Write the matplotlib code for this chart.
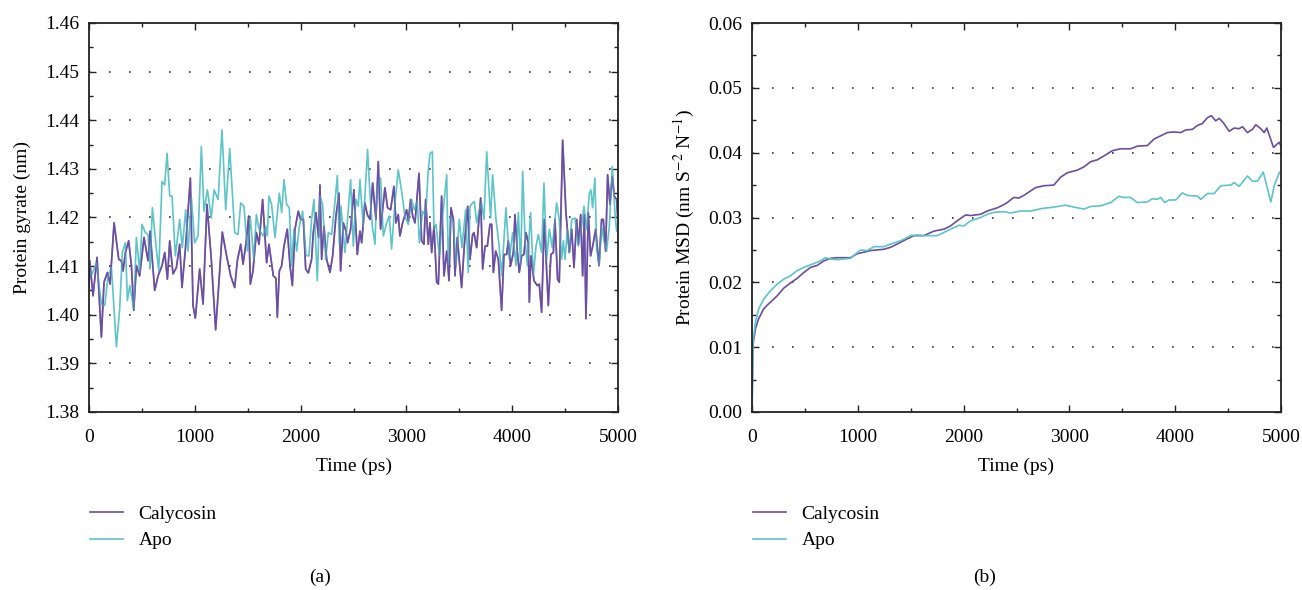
import numpy as np
import matplotlib
matplotlib.use("Agg")
import matplotlib.pyplot as plt
from matplotlib.ticker import MultipleLocator

plt.rcParams['font.family'] = ['Liberation Serif', 'DejaVu Serif']
plt.rcParams['mathtext.fontset'] = 'stix'

PURPLE = "#6a4ea2"
TEAL = "#5dc4c7"
FS = 14

# ---- (a) radius of gyration ----
gyr_cal_t = [0, 7, 38, 76, 117, 142, 174, 199, 237, 281, 306, 322, 344, 375, 401, 423, 448, 479,
             520, 558, 577, 621, 653, 690, 716, 741, 763, 794, 826, 857, 879, 911, 958, 983, 1005,
             1046, 1078, 1115, 1156, 1197, 1226, 1260, 1298, 1339, 1377, 1402, 1434, 1456, 1487,
             1509, 1525, 1550, 1582, 1607,
             1616, 1641, 1679, 1701, 1742, 1767, 1780, 1799, 1821, 1843, 1874, 1900, 1922, 1947,
             1978, 2000, 2026, 2048, 2073, 2104, 2120, 2145, 2170, 2183, 2199, 2221, 2246, 2278,
             2303, 2334, 2363, 2378, 2404, 2429, 2444, 2473, 2504, 2536, 2561, 2577, 2608, 2630,
             2656, 2681, 2712, 2734, 2756, 2797, 2822, 2851, 2882, 2901, 2923, 2939, 2964, 3002,
             3018, 3040, 3059, 3081, 3097, 3119, 3144, 3166, 3182, 3207,
             3223, 3239, 3261, 3286, 3302, 3333, 3355, 3381, 3403, 3421, 3444, 3459, 3481, 3522,
             3547, 3579, 3601, 3626, 3639, 3664, 3702, 3721, 3743, 3765, 3790, 3806, 3822, 3844,
             3869, 3900, 3922, 3948, 3963, 3985, 4011, 4026, 4048, 4067, 4089, 4111, 4130, 4152,
             4162, 4177, 4206, 4237, 4256, 4278, 4303, 4341, 4366, 4389, 4404, 4429, 4445, 4477,
             4508, 4540, 4562, 4584, 4609, 4625, 4647, 4666, 4682, 4697, 4719, 4741, 4767, 4789,
             4820, 4845, 4861, 4883, 4902, 4924, 4946, 4965, 4987, 5000]
gyr_cal = [1.4050, 1.4111, 1.4039, 1.4118, 1.3954, 1.4067, 1.4087, 1.4063, 1.4189, 1.4114, 1.4111,
           1.4090, 1.4128, 1.4152, 1.4101, 1.4009, 1.4101, 1.4080, 1.4159, 1.4111, 1.4172, 1.4050,
           1.4080, 1.4101, 1.4128, 1.4073, 1.4152, 1.4084, 1.4097, 1.4145, 1.4056, 1.4135, 1.4281,
           1.4019, 1.3993, 1.4094, 1.4022, 1.4227, 1.4114, 1.3969, 1.4060, 1.4170, 1.4124, 1.4080,
           1.4056, 1.4111, 1.4145, 1.4104, 1.4152, 1.4203, 1.4063, 1.4090, 1.4169, 1.4145,
           1.4169, 1.4237, 1.4107, 1.4145, 1.4080, 1.4075, 1.3995, 1.4090, 1.4101, 1.4141, 1.4176,
           1.4101, 1.4060, 1.4176, 1.4213, 1.4196, 1.4196, 1.4094, 1.4086, 1.4114, 1.4169, 1.4210,
           1.4159, 1.4267, 1.4114, 1.4182, 1.4114, 1.4087, 1.4121, 1.4203, 1.4250, 1.4090, 1.4189,
           1.4172, 1.4148, 1.4176, 1.4257, 1.4124, 1.4172, 1.4148, 1.4230, 1.4206, 1.4196, 1.4271,
           1.4196, 1.4315, 1.4176, 1.4261, 1.4220, 1.4216, 1.4264, 1.4189, 1.4206, 1.4162, 1.4189,
           1.4216, 1.4193, 1.4237, 1.4203, 1.4189, 1.4233, 1.4291, 1.4152, 1.4145, 1.4237, 1.4145,
           1.4189, 1.4128, 1.4182, 1.4067, 1.4063, 1.4244, 1.4080, 1.4131, 1.4070, 1.4220, 1.4196,
           1.4080, 1.4159, 1.4056, 1.4141, 1.4223, 1.4114, 1.4165, 1.4169, 1.4138, 1.4240, 1.4094,
           1.4141, 1.4141, 1.4186, 1.4186, 1.4087, 1.4131, 1.4114, 1.4009, 1.4124, 1.4124, 1.4152,
           1.4101, 1.4128, 1.4206, 1.4131, 1.4087, 1.4121, 1.4124, 1.4169, 1.4148, 1.4026, 1.4121,
           1.4070, 1.4060, 1.4063, 1.4005, 1.4196, 1.4019, 1.4124, 1.4128, 1.4196, 1.4073, 1.4067,
           1.4359, 1.4210, 1.4128, 1.4176, 1.4097, 1.4196, 1.4145, 1.4206, 1.4080, 1.4206, 1.3992,
           1.4210, 1.4121, 1.4148, 1.4176, 1.4101, 1.4196, 1.4196, 1.4131, 1.4288, 1.4227, 1.4284,
           1.4244, 1.4237, 1.4189]

gyr_apo_t = [0, 22, 70, 117, 149, 180, 212, 259, 290, 315, 344, 363, 385, 423, 448, 479, 501, 533,
             558, 577, 599, 637, 659, 690, 716, 738, 763, 785, 816, 857, 882, 914, 936, 968, 999,
             1031, 1062, 1087, 1119, 1156, 1182, 1220, 1257, 1292, 1330, 1377, 1409, 1434, 1465,
             1497, 1525, 1557, 1582, 1604,
             1616, 1648, 1670, 1685, 1701, 1726, 1758, 1799, 1821, 1843, 1868, 1893, 1915, 1937,
             1963, 1988, 2019, 2051, 2079, 2104, 2126, 2158, 2183, 2208, 2237, 2262, 2293, 2325,
             2347, 2366, 2381, 2419, 2441, 2473, 2498, 2523, 2545, 2561, 2592, 2633, 2656, 2678,
             2703, 2719, 2756, 2782, 2813, 2838, 2860, 2892, 2923, 2955, 2986, 3018, 3049, 3075,
             3103, 3122, 3153, 3182, 3207,
             3223, 3245, 3261, 3280, 3311, 3343, 3381, 3396, 3418, 3444, 3469, 3500, 3525, 3560,
             3585, 3601, 3626, 3642, 3664, 3689, 3711, 3733, 3759, 3796, 3815, 3847, 3875, 3900,
             3941, 3973, 4004, 4036, 4058, 4080, 4099, 4121, 4143, 4174, 4200, 4225, 4247, 4278,
             4300, 4326, 4351, 4379, 4420, 4445, 4467, 4483, 4499, 4521, 4540, 4562, 4593, 4625,
             4656, 4678, 4703, 4729, 4744, 4760, 4782, 4798, 4823, 4845, 4867, 4892, 4918, 4946,
             4971, 4987, 5000]
gyr_apo = [1.4094, 1.4080, 1.4107, 1.4022, 1.4019, 1.4080, 1.4097, 1.3934, 1.4012, 1.4128, 1.4148,
           1.4029, 1.4060, 1.4012, 1.4159, 1.4087, 1.4186, 1.4169, 1.4165, 1.4094, 1.4220, 1.4135,
           1.4090, 1.4274, 1.4267, 1.4332, 1.4244, 1.4244, 1.4121, 1.4196, 1.4138, 1.4216, 1.4131,
           1.4240, 1.4148, 1.4162, 1.4346, 1.4213, 1.4257, 1.4199, 1.4257, 1.4237, 1.4380, 1.4216,
           1.4342, 1.4169, 1.4165, 1.4230, 1.4223, 1.4131, 1.4199, 1.4114, 1.4206, 1.4179,
           1.4172, 1.4162, 1.4182, 1.4162, 1.4244, 1.4227, 1.4159, 1.4250, 1.4210, 1.4278, 1.4227,
           1.4220, 1.4101, 1.4176, 1.4131, 1.4182, 1.4213, 1.4122, 1.4121, 1.4196, 1.4237, 1.4070,
           1.4244, 1.4227, 1.4114, 1.4169, 1.4165, 1.4233, 1.4286, 1.4145, 1.4223, 1.4128, 1.4189,
           1.4278, 1.4141, 1.4237, 1.4223, 1.4278, 1.4182, 1.4340, 1.4247, 1.4182, 1.4145, 1.4250,
           1.4281, 1.4162, 1.4189, 1.4203, 1.4135, 1.4230, 1.4298, 1.4254, 1.4203, 1.4186, 1.4237,
           1.4216, 1.4233, 1.4148, 1.4213, 1.4203, 1.4298,
           1.4332, 1.4335, 1.4176, 1.4186, 1.4121, 1.4203, 1.4288, 1.4101, 1.4203, 1.4189, 1.4101,
           1.4196, 1.4138, 1.4216, 1.4087, 1.4223, 1.4230, 1.4233, 1.4189, 1.4216, 1.4230, 1.4196,
           1.4335, 1.4199, 1.4288, 1.4196, 1.4145, 1.4080, 1.4220, 1.4114, 1.4169, 1.4101, 1.4210,
           1.4101, 1.4295, 1.4159, 1.4101, 1.4210, 1.4080, 1.4141, 1.4165, 1.4128, 1.4271, 1.4114,
           1.4176, 1.4138, 1.4230, 1.4196, 1.4114, 1.4152, 1.4114, 1.4176, 1.4128, 1.4196, 1.4199,
           1.4141, 1.4182, 1.4223, 1.4176, 1.4250, 1.4257, 1.4220, 1.4281, 1.4135, 1.4101, 1.4182,
           1.4152, 1.4131, 1.4182, 1.4305, 1.4210, 1.4172, 1.4170]

# ---- (b) MSD ----
msd_cal_t = [0, 9, 32, 63, 110, 158, 237, 300, 363, 426, 489, 552, 615, 678, 741, 805, 931, 994,
             1120, 1246, 1309, 1372, 1467, 1530, 1625, 1719, 1814, 1877, 1940, 2019, 2067, 2161,
             2224, 2319, 2382, 2412, 2475, 2522, 2569, 2633, 2680, 2759, 2853, 2916, 2980, 3074,
             3137, 3200, 3264, 3327, 3405, 3484, 3579, 3642, 3737, 3800, 3863, 3926, 3989, 4052,
             4100, 4163, 4210, 4257, 4305, 4342, 4383, 4415, 4456, 4510, 4557, 4604, 4636, 4683,
             4730, 4762, 4809, 4841, 4866, 4898, 4929, 4961, 4983, 5000]
msd_cal = [0.0, 0.0103, 0.0128, 0.0144, 0.0159, 0.0167, 0.0179, 0.0191, 0.0199, 0.0206, 0.0215,
           0.0223, 0.0226, 0.0233, 0.0237, 0.0238, 0.0238, 0.0244, 0.0249, 0.0251, 0.0254, 0.0259,
           0.0267, 0.0272, 0.0272, 0.0279, 0.0282, 0.0287, 0.0295, 0.0304, 0.0303, 0.0305, 0.0310,
           0.0315, 0.0320, 0.0323, 0.0331, 0.0330, 0.0334, 0.0341, 0.0346, 0.0349, 0.0350, 0.0362,
           0.0369, 0.0373, 0.0378, 0.0386, 0.0389, 0.0395, 0.0403, 0.0406, 0.0406, 0.0410, 0.0411,
           0.0421, 0.0426, 0.0431, 0.0432, 0.0431, 0.0435, 0.0436, 0.0442, 0.0445, 0.0454, 0.0457,
           0.0449, 0.0453, 0.0446, 0.0433, 0.0438, 0.0437, 0.0440, 0.0431, 0.0436, 0.0443, 0.0437,
           0.0431, 0.0438, 0.0423, 0.0408, 0.0413, 0.0416, 0.0410]

msd_apo_t = [0, 9, 32, 63, 110, 174, 237, 300, 363, 426, 489, 568, 647, 694, 741, 805, 931, 1025,
             1088, 1152, 1246, 1309, 1404, 1499, 1562, 1625, 1751, 1877, 1956, 2003, 2067, 2161,
             2224, 2287, 2382, 2443, 2538, 2633, 2743, 2853, 2964, 3043, 3137, 3200, 3295, 3390,
             3469, 3500, 3579, 3642, 3737, 3784, 3831, 3863, 3901, 3942, 4005, 4068, 4115, 4210,
             4242, 4305, 4368, 4431, 4525, 4557, 4604, 4683, 4730, 4778, 4832, 4873, 4904, 4936,
             4967, 4986, 5000]
msd_apo = [0.0, 0.0108, 0.0138, 0.0159, 0.0174, 0.0187, 0.0197, 0.0205, 0.0210, 0.0218, 0.0223,
           0.0228, 0.0233, 0.0238, 0.0236, 0.0235, 0.0237, 0.0250, 0.0249, 0.0255, 0.0255, 0.0259,
           0.0264, 0.0272, 0.0273, 0.0272, 0.0272, 0.0282, 0.0288, 0.0287, 0.0295, 0.0300, 0.0305,
           0.0308, 0.0309, 0.0307, 0.0310, 0.0310, 0.0314, 0.0316, 0.0319, 0.0316, 0.0313, 0.0317,
           0.0318, 0.0323, 0.0333, 0.0331, 0.0331, 0.0323, 0.0324, 0.0329, 0.0328, 0.0331, 0.0323,
           0.0327, 0.0327, 0.0338, 0.0334, 0.0333, 0.0328, 0.0337, 0.0337, 0.0349, 0.0350, 0.0354,
           0.0348, 0.0364, 0.0356, 0.0356, 0.0370, 0.0344, 0.0324, 0.0349, 0.0362, 0.0370, 0.0367]

series_names = ["Calycosin", "Apo"]

fig = plt.figure(figsize=(13.02, 5.90), dpi=100)
axa = fig.add_axes([89 / 1302, 1 - 412 / 590, 529 / 1302, 389 / 590])
axb = fig.add_axes([752 / 1302, 1 - 412 / 590, 529 / 1302, 389 / 590])


def style_axis(ax, ymin, ymax, ymajor, yfmt):
    ax.set_xlim(0, 5000)
    ax.set_ylim(ymin, ymax)
    ax.xaxis.set_major_locator(MultipleLocator(1000))
    ax.xaxis.set_minor_locator(MultipleLocator(500))
    ax.yaxis.set_major_locator(MultipleLocator(ymajor))
    ax.yaxis.set_minor_locator(MultipleLocator(ymajor / 2))
    ax.yaxis.set_major_formatter(matplotlib.ticker.FormatStrFormatter(yfmt))
    ax.tick_params(which='both', direction='in', top=True, right=True,
                   labelsize=FS, color='#222222')
    ax.tick_params(axis='x', pad=12)
    ax.tick_params(axis='y', pad=7)
    ax.tick_params(which='major', length=5, width=1)
    ax.tick_params(which='minor', length=3, width=1)
    for s in ax.spines.values():
        s.set_linewidth(1.3)
        s.set_color('#222222')
    for yv in np.arange(ymin + ymajor, ymax - ymajor / 2, ymajor):
        ax.axhline(yv, color='#333333', lw=1.2, ls=(0, (1, 11)), zorder=0)
    ax.set_xlabel("Time (ps)", fontsize=FS, labelpad=9)


style_axis(axa, 1.38, 1.46, 0.01, '%.2f')
style_axis(axb, 0.0, 0.06, 0.01, '%.2f')

la1, = axa.plot(gyr_cal_t, gyr_cal, color=PURPLE, lw=1.2)
la2, = axa.plot(gyr_apo_t, gyr_apo, color=TEAL, lw=1.2)
axa.plot(gyr_cal_t, gyr_cal, color=PURPLE, lw=1.2, alpha=0.6)
axa.set_ylabel("Protein gyrate (nm)", fontsize=FS, labelpad=10)

lb1, = axb.plot(msd_cal_t, msd_cal, color=PURPLE, lw=1.2)
lb2, = axb.plot(msd_apo_t, msd_apo, color=TEAL, lw=1.2)
axb.set_ylabel("Protein MSD (nm S$^{-2}$ N$^{-1}$)", fontsize=FS, labelpad=8)

for ax, handles in ((axa, (la1, la2)), (axb, (lb1, lb2))):
    ax.legend(handles, series_names, loc='upper left', bbox_to_anchor=(0.002, -0.24),
              frameon=False, fontsize=FS, handlelength=1.7, handletextpad=0.8,
              labelspacing=0.45, borderaxespad=0, borderpad=0)

fig.text(320 / 1302, 1 - 577 / 590, "(a)", ha='center', va='center', fontsize=FS)
fig.text(985 / 1302, 1 - 577 / 590, "(b)", ha='center', va='center', fontsize=FS)

fig.savefig("out.png", dpi=100)
